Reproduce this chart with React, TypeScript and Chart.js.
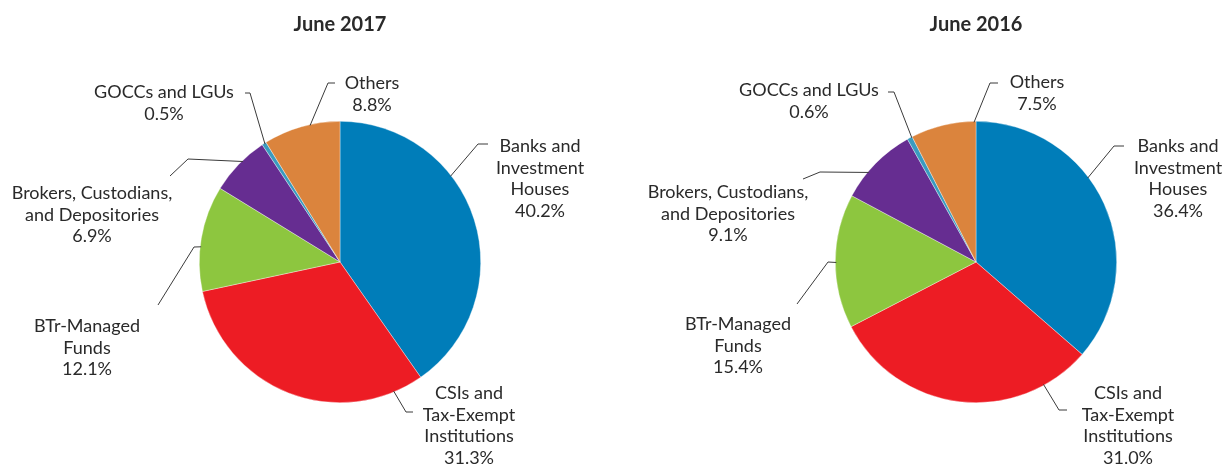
import React, { useEffect, useRef } from "react";
import { Chart, registerables } from "chart.js";

Chart.register(...registerables);

// ---- Data ----
const categories = [
  "Banks and Investment Houses",
  "CSIs and Tax-Exempt Institutions",
  "BTr-Managed Funds",
  "Brokers, Custodians, and Depositories",
  "GOCCs and LGUs",
  "Others",
];
const labelLines = [
  ["Banks and", "Investment", "Houses"],
  ["CSIs and", "Tax-Exempt", "Institutions"],
  ["BTr-Managed", "Funds"],
  ["Brokers, Custodians,", "and Depositories"],
  ["GOCCs and LGUs"],
  ["Others"],
];
const values2017 = [40.2, 31.3, 12.1, 6.9, 0.5, 8.8];
const values2016 = [36.4, 31.0, 15.4, 9.1, 0.6, 7.5];
const titles = ["June 2017", "June 2016"];

// ---- Styles ----
const sliceColors = ["#007DB9", "#ED1C24", "#8DC63F", "#662D91", "#3A9BBF", "#DB843D"];
const FONT = "Lato, 'Open Sans', sans-serif";
const TEXT_COLOR = "#2a2a2a";
const LINE_COLOR = "#3a3a3a";
const LINE_HEIGHT = 21.8;

// ---- Label layout (offsets relative to pie centre; frac = where along the slice the leader starts) ----
type LabelPos = { frac: number; p1: [number, number]; p2: [number, number]; text: [number, number] };
const layout2017: LabelPos[] = [
  { frac: 0.36, p1: [138, -118], p2: [148, -118], text: [200, -116] },
  { frac: 0.11, p1: [66, 150], p2: [73, 150], text: [129, 131] },
  { frac: 0.42, p1: [-146, -15], p2: [-182, 43], text: [-253, 64] },
  { frac: 0.58, p1: [-152, -103], p2: [-170, -86], text: [-248, -69] },
  { frac: 0.6, p1: [-90, -169], p2: [-95, -169], text: [-176, -170] },
  { frac: 0.61, p1: [-12, -179], p2: [-5, -179], text: [32, -179] },
];
const layout2016: LabelPos[] = [
  { frac: 0.405, p1: [138, -116], p2: [148, -116], text: [202, -116] },
  { frac: 0.18, p1: [83, 148], p2: [91, 148], text: [152, 131] },
  { frac: 0.49, p1: [-148, 0], p2: [-179, 42], text: [-238, 62] },
  { frac: 0.36, p1: [-156, -90], p2: [-173, -83], text: [-248, -70] },
  { frac: 0.85, p1: [-82, -170], p2: [-88, -170], text: [-167, -172] },
  { frac: 0.97, p1: [14, -179], p2: [22, -179], text: [61, -180] },
];

const labelPlugin = {
  id: "pieLabels",
  afterDraw(chart: any) {
    const layout: LabelPos[] = chart.options.plugins.pieLabels.layout;
    const ctx = chart.ctx;
    const meta = chart.getDatasetMeta(0);
    const values: number[] = chart.data.datasets[0].data;
    ctx.save();
    meta.data.forEach((arc: any, i: number) => {
      const { x, y, startAngle, endAngle, outerRadius } = arc.getProps(
        ["x", "y", "startAngle", "endAngle", "outerRadius"],
        true
      );
      const L = layout[i];
      const a = startAngle + (endAngle - startAngle) * L.frac;
      const sx = x + Math.cos(a) * (outerRadius - 1);
      const sy = y + Math.sin(a) * (outerRadius - 1);
      ctx.beginPath();
      ctx.strokeStyle = LINE_COLOR;
      ctx.lineWidth = 1;
      ctx.moveTo(sx, sy);
      ctx.lineTo(x + L.p1[0], y + L.p1[1]);
      ctx.lineTo(x + L.p2[0], y + L.p2[1]);
      ctx.stroke();

      const lines = [...labelLines[i], values[i].toFixed(1) + "%"];
      ctx.fillStyle = TEXT_COLOR;
      ctx.font = `18px ${FONT}`;
      ctx.textAlign = "center";
      ctx.textBaseline = "middle";
      lines.forEach((t, k) => {
        ctx.fillText(t, x + L.text[0], y + L.text[1] + k * LINE_HEIGHT);
      });
    });
    ctx.restore();
  },
};

function PieChart({
  title,
  values,
  layout,
  padLeft,
}: {
  title: string;
  values: number[];
  layout: LabelPos[];
  padLeft: number;
}) {
  const ref = useRef<HTMLCanvasElement>(null);
  useEffect(() => {
    if (!ref.current) return;
    const chart = new Chart(ref.current, {
      type: "pie",
      data: {
        labels: categories,
        datasets: [
          {
            data: values,
            backgroundColor: sliceColors,
            borderColor: "rgba(255,255,255,0.6)",
            borderWidth: 0.6,
          },
        ],
      },
      options: {
        animation: false,
        responsive: true,
        maintainAspectRatio: false,
        layout: { padding: { left: padLeft, right: 0, top: 0, bottom: 65 } },
        plugins: {
          legend: { display: false },
          tooltip: { enabled: false },
          title: {
            display: true,
            text: title,
            color: TEXT_COLOR,
            font: { family: FONT, size: 20, weight: "bold" },
            padding: { top: 13, bottom: 84 },
          },
          // @ts-ignore
          pieLabels: { layout },
        },
      },
      plugins: [labelPlugin],
    } as any);
    return () => chart.destroy();
  }, []);
  return <canvas ref={ref} />;
}

export default function App() {
  return (
    <div
      style={{
        position: "absolute",
        left: 0,
        top: 0,
        width: 1225,
        height: 468,
        background: "#fff",
        overflow: "hidden",
      }}
    >
      <div style={{ position: "absolute", left: 0, top: 0, width: 612, height: 468 }}>
        <PieChart title={titles[0]} values={values2017} layout={layout2017} padLeft={68} />
      </div>
      <div style={{ position: "absolute", left: 612, top: 0, width: 613, height: 468 }}>
        <PieChart title={titles[1]} values={values2016} layout={layout2016} padLeft={115} />
      </div>
    </div>
  );
}
